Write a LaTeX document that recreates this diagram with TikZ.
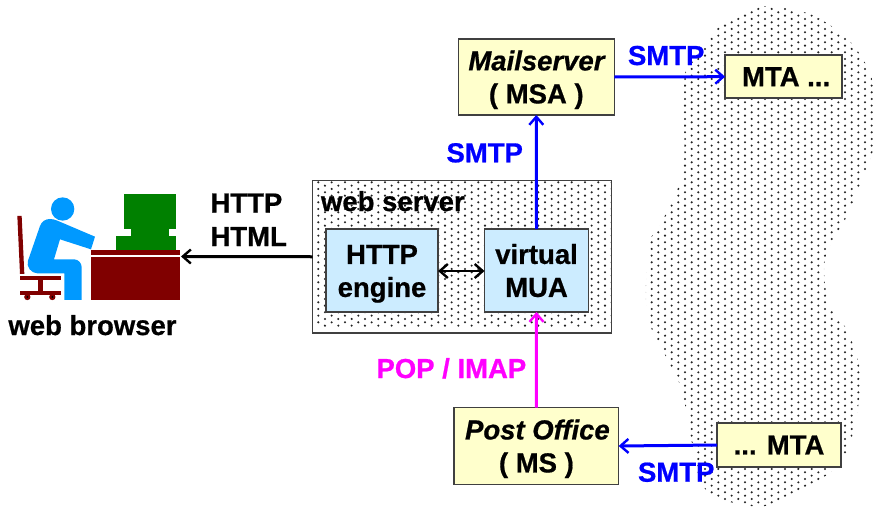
\documentclass[tikz,border=0pt]{standalone}
\usepackage{fontspec}
\setmainfont[BoldFeatures={FakeBold=0.7},BoldItalicFeatures={FakeBold=0.7}]{Liberation Sans}
\usetikzlibrary{arrows.meta}
\definecolor{boxyellow}{HTML}{FFFFCC}
\definecolor{boxblue}{HTML}{CCECFF}
\definecolor{edgegray}{HTML}{404040}
\definecolor{dotgray}{HTML}{222222}
\definecolor{smtpblue}{HTML}{0000FF}
\definecolor{popmagenta}{HTML}{FF00FF}
\definecolor{persona}{HTML}{0099FF}
\definecolor{deskred}{HTML}{800000}
\definecolor{monitorgreen}{HTML}{008000}
\newcommand{\lstrut}{\rule[-6.6pt]{0pt}{33pt}}
\tikzset{
  every node/.style={inner sep=0pt,outer sep=0pt},
  lbl/.style={font=\fontsize{27.5}{33}\selectfont\bfseries,align=center,text=black},
  bluelbl/.style={font=\fontsize{27.5}{33}\selectfont\bfseries,text=smtpblue},
  yellowbox/.style={lbl,draw=edgegray,line width=1.6pt,fill=boxyellow},
  bluebox/.style={lbl,draw=edgegray,line width=1.6pt,fill=boxblue},
  conn/.style={line width=3pt,-{Straight Barb[length=8pt,width=14pt,line width=2.4pt]}},
  biconn/.style={line width=2.6pt,{Straight Barb[length=8pt,width=14pt,line width=2.4pt]}-{Straight Barb[length=8pt,width=14pt,line width=2.4pt]}},
}
\newcommand{\dotlattice}[4]{% first col, last col, first row, last row
  \fill[dotgray] \foreach \i in {#1,...,#2}{ \foreach \j in {#3,...,#4}{
    ({705+6.667*\i},{162.3+6.667*\j+3.333*mod(abs(\i),2)}) circle (1.15)
  }};
}
\begin{document}
\begin{tikzpicture}[x=1pt,y=-1pt]
\useasboundingbox (0,0) rectangle (880,506);
% cloud of dots
\begin{scope}
\clip plot[smooth cycle,tension=0.5] coordinates {(763,6)(737,17)(717,28)(703,48)(686,70)(684,100)(684,165)(678,188)(660,225)(648,245)(646,300)(650,325)(665,355)(680,385)(688,420)(697,470)(706,490)(730,502)(765,506)(805,490)(838,465)(851,440)(859,400)(859,365)(847,330)(832,310)(825,285)(826,255)(845,220)(865,172)(874,145)(874,85)(857,50)(837,30)(807,13)};
\dotlattice{-9}{26}{-25}{52}
\end{scope}
% web server
\node[draw=edgegray,line width=1.6pt,fill=white,minimum width=299pt,minimum height=152.5pt,anchor=north west] (server) at (312.5,180.5) {};
\begin{scope}
\clip (313.3,181.3) rectangle (610.8,332.2);
\dotlattice{-59}{-14}{0}{24}
\end{scope}
\node[lbl,anchor=base west] (serverlabel) at (321,211) {web server};
\node[bluebox,minimum width=112pt,minimum height=83pt] (engine) at (382,270.5) {\lstrut HTTP\\\lstrut engine};
\node[bluebox,minimum width=104pt,minimum height=83pt] (mua) at (536.5,270.5) {\lstrut virtual\\\lstrut MUA};
% boxes
\node[yellowbox,minimum width=156pt,minimum height=76pt] (mail) at (536.3,77) {\lstrut\hspace*{1.5pt}\textit{Mailserver}\\\lstrut ( MSA )};
\node[yellowbox,minimum width=117pt,minimum height=43pt] (mta1) at (783.6,76.7) {\hspace*{5pt}MTA ...};
\node[yellowbox,minimum width=164.5pt,minimum height=77pt] (po) at (536.4,446) {\lstrut\hspace*{2pt}\textit{Post Office}\\\lstrut ( MS )};
\node[yellowbox,minimum width=124.5pt,minimum height=43.5pt] (mta2) at (779,445) {... MTA};
% computer user
\begin{scope}[shift={(0,170)},x=0.3333pt,y=-0.3333pt]
\fill[persona] (188,117) circle (35);
\fill[persona] (150,147) to[out=0,in=160] (172,152) -- (285,200) -- (273,238) -- (180,208) -- (162,268) -- (222,268) to[out=0,in=90] (245,292) -- (245,390) -- (193,390) -- (193,310) -- (112,310) to[out=180,in=-110] (84,272) -- (120,168) to[out=70,in=180] (150,147) -- cycle;
\fill[deskred] (52,138) -- (65,138) -- (73,312) -- (60,312) -- cycle;
\fill[deskred] (60,318) rectangle (182,331);
\fill[deskred] (113,331) rectangle (130,362);
\fill[deskred] (60,362) rectangle (182,375);
\fill[deskred] (82,381) circle (9.5) (157,381) circle (9.5);
\fill[black] (82,381) circle (3) (157,381) circle (3);
\fill[deskred] (274,240) rectangle (541,255);
\fill[deskred] (274,262) rectangle (541,390);
\fill[monitorgreen] (372,72) rectangle (529,177);
\fill[monitorgreen] (394,177) rectangle (507,197);
\fill[monitorgreen] (349,198) rectangle (529,240);
\end{scope}
\coordinate (desk) at (181,256.5);
% labels
\node[lbl,anchor=base west] (http) at (210.5,212.5) {HTTP};
\node[lbl,anchor=base west] (html) at (210.5,246) {HTML};
\node[lbl,anchor=base] (browser) at (92.5,335) {web browser};
\node[bluelbl,anchor=base west] (smtpa) at (628,65) {SMTP};
\node[bluelbl,anchor=base west] (smtpb) at (446.5,162.3) {SMTP};
\node[bluelbl,anchor=base west] (smtpc) at (638,481.7) {SMTP};
\node[bluelbl,text=popmagenta,anchor=base west] (pop) at (376.5,378) {POP / IMAP};
% connectors
\draw[conn,smtpblue] (mail.east) -- (mta1.west);
\draw[conn,smtpblue] (mua.north) -- (mail.south);
\draw[conn,popmagenta] (po.north) -- (mua.south);
\draw[conn,smtpblue] (mta2.west) -- (po.east);
\draw[conn,black] (server.west) -- (desk);
\draw[biconn,black] ([yshift=-0.5pt]engine.east) -- ([yshift=-0.5pt]mua.west);
\end{tikzpicture}
\end{document}
